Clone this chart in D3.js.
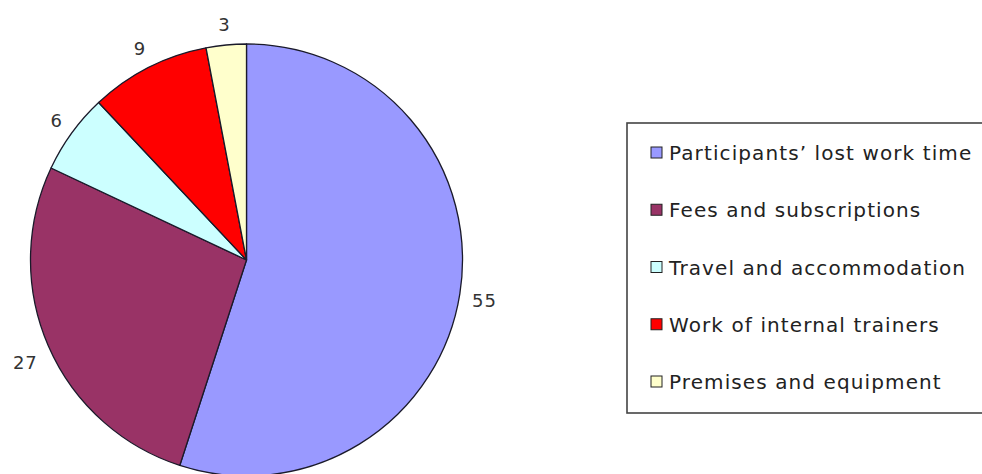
<!DOCTYPE html>
<html>
<head>
<meta charset="utf-8">
<script src="https://cdn.jsdelivr.net/npm/d3@7"></script>
<style>
  html, body { margin: 0; padding: 0; background: #fff; }
  svg { display: block; }
</style>
</head>
<body>
<svg id="chart" width="982" height="474"></svg>
<script>
// Training cost breakdown (%)
const categories = [
  "Participants\u2019 lost work time",
  "Fees and subscriptions",
  "Travel and accommodation",
  "Work of internal trainers",
  "Premises and equipment"
];
const values = [55, 27, 6, 9, 3];
const colors = ["#9999FF", "#993366", "#CCFFFF", "#FF0000", "#FFFFCC"];

const svg = d3.select("#chart");
const cx = 246.5, cy = 260, R = 216;

const pie = d3.pie().sort(null).value(d => d.value);
const arcs = pie(categories.map((c, i) => ({ name: c, value: values[i], color: colors[i] })));
const arc = d3.arc().innerRadius(0).outerRadius(R);

const g = svg.append("g").attr("transform", `translate(${cx},${cy})`);

g.selectAll("path.slice")
  .data(arcs)
  .join("path")
  .attr("class", "slice")
  .attr("d", arc)
  .attr("fill", d => d.data.color)
  .attr("stroke", "#1a1a2a")
  .attr("stroke-width", 1.3)
  .attr("stroke-linejoin", "round");

// Value labels placed just outside the rim
const fontFamily = "DejaVu Sans, Verdana, sans-serif";
g.selectAll("text.val")
  .data(arcs)
  .join("text")
  .attr("class", "val")
  .each(function (d) {
    const a = (d.startAngle + d.endAngle) / 2;
    const dx = Math.sin(a), dy = -Math.cos(a);
    const txt = String(d.data.value);
    const halfW = txt.length * 6.5, halfH = 9;
    const gap = 12;
    const x = (R + gap) * dx + halfW * dx;
    const y = (R + gap) * dy + halfH * dy + (dy > 0 ? 20 * dy : 0);
    d3.select(this)
      .attr("x", x)
      .attr("y", y)
      .attr("dy", "0.36em")
      .attr("text-anchor", "middle")
      .text(txt);
  })
  .attr("font-family", fontFamily)
  .attr("font-size", 18)
  .attr("letter-spacing", 1)
  .attr("fill", "#333");

// Legend
const legX = 627, legY = 123, legW = 370, legH = 290;
const legend = svg.append("g");
legend.append("rect")
  .attr("x", legX).attr("y", legY)
  .attr("width", legW).attr("height", legH)
  .attr("fill", "#fff")
  .attr("stroke", "#444")
  .attr("stroke-width", 1.6);

const rowY = d3.scalePoint().domain(categories).range([153, 382]);

const rows = legend.selectAll("g.row")
  .data(categories)
  .join("g")
  .attr("class", "row")
  .attr("transform", d => `translate(0,${rowY(d)})`);

rows.append("rect")
  .attr("x", 651).attr("y", -6)
  .attr("width", 11).attr("height", 11)
  .attr("fill", (d, i) => colors[i])
  .attr("stroke", "#222")
  .attr("stroke-width", 1);

rows.append("text")
  .attr("x", 669)
  .attr("y", 0)
  .attr("dy", "0.36em")
  .attr("font-family", fontFamily)
  .attr("font-size", 20)
  .attr("letter-spacing", 1.1)
  .attr("fill", "#222")
  .text(d => d);
</script>
</body>
</html>
